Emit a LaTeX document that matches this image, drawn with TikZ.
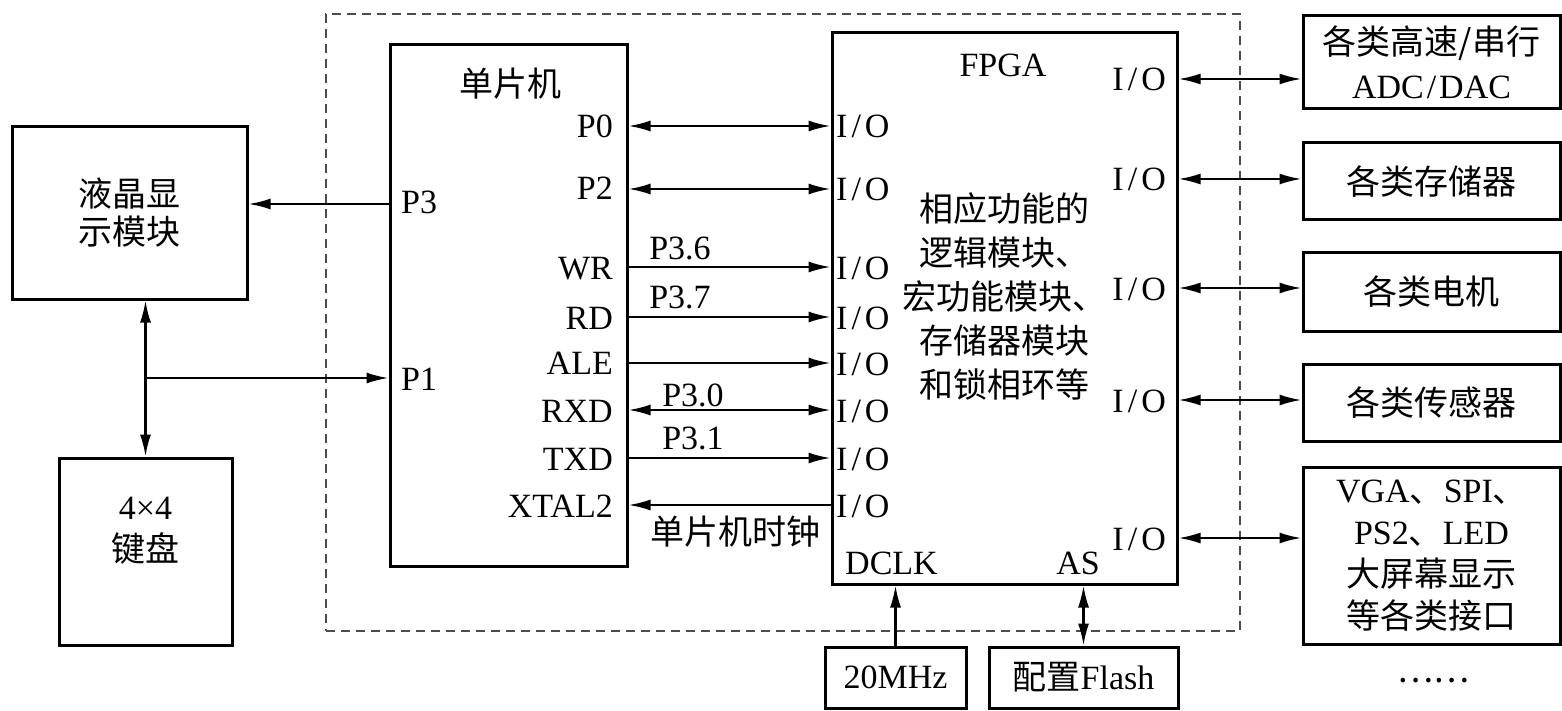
\documentclass[tikz,border=0pt]{standalone}
\usepackage{fontspec}
\setmainfont{Liberation Serif}
\newfontfamily\cjk{Noto Sans CJK SC}
\usetikzlibrary{arrows.meta}
\newcommand\myio{I\kern4pt/\kern4pt O}
\tikzset{
  lat/.style={font=\fontsize{34}{42}\selectfont, inner sep=0pt},
  zh/.style={font=\cjk\fontsize{34}{42}\selectfont, inner sep=0pt},
  box/.style={draw, line width=3pt, inner sep=0pt, align=center},
  frm/.style={draw=black!70, line width=1.8pt, dash pattern=on 9pt off 6pt},
  con/.style={line width=2.2pt},
}
\begin{document}
\begin{tikzpicture}[x=1pt,y=-1pt, >={Latex[length=22pt,width=11pt]}]
\useasboundingbox (0,0) rectangle (1562,711);
% dashed frame
\node[frm, minimum width=914pt, minimum height=617pt] (frame) at (783,322.5) {};
% boxes
\node[box, zh, font=\cjk\fontsize{34}{38}\selectfont, minimum width=235pt, minimum height=172pt] (lcd) at (129.5,213) {液晶显\\示模块};
\node[box, minimum width=173pt, minimum height=187pt] (kb) at (145.5,551.5) {};
\node[lat, align=center, font=\fontsize{34}{42}\selectfont] (kbt) at (145.5,531) {4×4\\{\cjk 键盘}};
\node[box, minimum width=237pt, minimum height=521pt] (mcu) at (508.5,305.5) {};
\node[box, minimum width=345pt, minimum height=551pt] (fpga) at (1004.5,308.5) {};
\node[box, lat, minimum width=257pt, minimum height=93pt, font=\fontsize{34}{44}\selectfont] (r1) at (1431.5,62.5) {{\cjk 各类高速/串行}\\ADC\kern3pt/\kern3pt DAC};
\node[box, zh, minimum width=257pt, minimum height=77pt] (r2) at (1431.5,181.5) {各类存储器};
\node[box, zh, minimum width=257pt, minimum height=78pt] (r3) at (1431.5,292) {各类电机};
\node[box, zh, minimum width=257pt, minimum height=77pt] (r4) at (1431.5,402.5) {各类传感器};
\node[box, lat, minimum width=257pt, minimum height=177pt] (r5) at (1431.5,555.5) {VGA{\cjk 、}SPI{\cjk 、}\\PS2{\cjk 、}LED\\{\cjk 大屏幕显示}\\{\cjk 等各类接口}};
\node[zh] (dots) at (1433,681) {……};
\node[box, lat, minimum width=141pt, minimum height=61pt] (clk) at (895.5,677.5) {20MHz};
\node[box, lat, minimum width=189pt, minimum height=61pt] (flash) at (1083.5,677.5) {{\cjk 配置}Flash};
% MCU labels
\node[zh] (mcut) at (510,84) {单片机};
\node[lat, anchor=base west] (p3) at (401,214) {P3};
\node[lat, anchor=base west] (p1) at (401,390) {P1};
\node[lat, anchor=base east] (p0) at (613,138) {P0};
\node[lat, anchor=base east] (p2) at (613,200) {P2};
\node[lat, anchor=base east] (wr) at (613,279) {WR};
\node[lat, anchor=base east] (rd) at (613,329) {RD};
\node[lat, anchor=base east] (ale) at (613,374) {ALE};
\node[lat, anchor=base east] (rxd) at (613,422) {RXD};
\node[lat, anchor=base east] (txd) at (613,470) {TXD};
\node[lat, anchor=base east] (xtal) at (613,517) {XTAL2};
% signal labels
\node[lat] (s36) at (680,248) {P3.6};
\node[lat] (s37) at (680,297) {P3.7};
\node[lat] (s30) at (693,395) {P3.0};
\node[lat] (s31) at (693,438) {P3.1};
\node[zh] (clkt) at (735,532) {单片机时钟};
% FPGA labels
\node[lat, anchor=base] (fpgat) at (1003,77) {FPGA};
\node[zh, align=center, font=\cjk\fontsize{34}{44}\selectfont] (fdesc) at (1004,296) {相应功能的\\逻辑模块、\\宏功能模块、\\存储器模块\\和锁相环等};
\foreach \y/\n in {126/a,189/b,267/c,317/d,363/e,410/f,458/g,505/h}
  \node[lat, anchor=base west] (li\n) at (836,\y+12) {\myio};
\foreach \y/\n in {79/a,179/b,288/c,400/d,538/e}
  \node[lat, anchor=base east] (ri\n) at (1166,\y+12) {\myio};
\node[lat, anchor=base west] (dclk) at (845,574) {DCLK};
\node[lat, anchor=base east] (as) at (1100,574) {AS};
% connectors left
\draw[con, ->] (mcu.west |- 0,204) -- (lcd.east |- 0,204);
\draw[con, <->] (kb.north |- lcd.south) -- (kb.north);
\coordinate (j) at (kb.north |- 0,378);
\draw[con, ->] (j) -- (mcu.west |- j);
% MCU - FPGA
\draw[con, <->] (mcu.east |- 0,126) -- (fpga.west |- 0,126);
\draw[con, <->] (mcu.east |- 0,189) -- (fpga.west |- 0,189);
\draw[con, ->] (mcu.east |- 0,267) -- (fpga.west |- 0,267);
\draw[con, ->] (mcu.east |- 0,317) -- (fpga.west |- 0,317);
\draw[con, ->] (mcu.east |- 0,363) -- (fpga.west |- 0,363);
\draw[con, <->] (mcu.east |- 0,410) -- (fpga.west |- 0,410);
\draw[con, ->] (mcu.east |- 0,458) -- (fpga.west |- 0,458);
\draw[con, ->] (fpga.west |- 0,505) -- (mcu.east |- 0,505);
% FPGA - right
\draw[con, <->] (fpga.east |- 0,79) -- (r1.west |- 0,79);
\draw[con, <->] (fpga.east |- 0,179) -- (r2.west |- 0,179);
\draw[con, <->] (fpga.east |- 0,288) -- (r3.west |- 0,288);
\draw[con, <->] (fpga.east |- 0,400) -- (r4.west |- 0,400);
\draw[con, <->] (fpga.east |- 0,538) -- (r5.west |- 0,538);
% bottom
\draw[con, ->] (clk.north) -- (clk.north |- fpga.south);
\draw[con, <->] (flash.north) -- (flash.north |- fpga.south);
\end{tikzpicture}
\end{document}
